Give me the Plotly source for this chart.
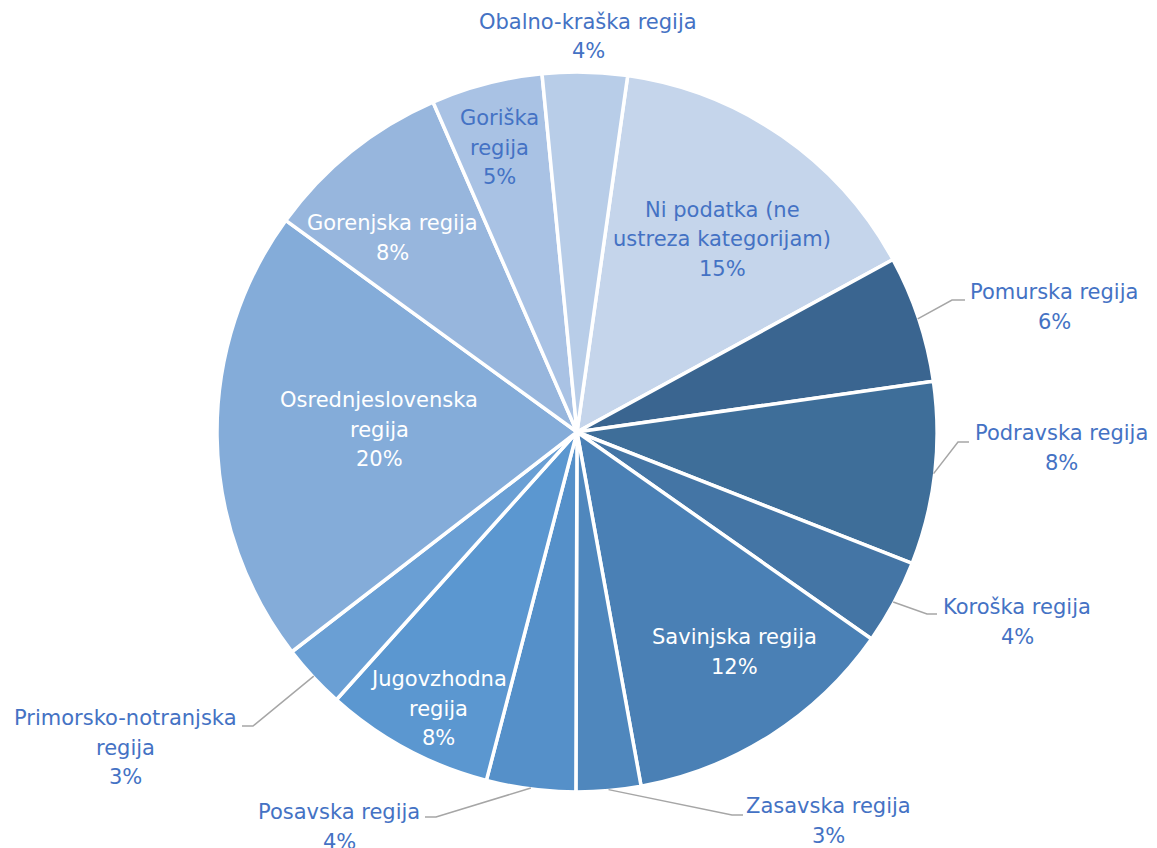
import math
import plotly.graph_objects as go

# -----------------------------
# Data (clockwise, starting after Obalno-kraška)
# -----------------------------
regions = [
    "Ni podatka (ne ustreza kategorijam)",
    "Pomurska regija",
    "Podravska regija",
    "Koroška regija",
    "Savinjska regija",
    "Zasavska regija",
    "Posavska regija",
    "Jugovzhodna regija",
    "Primorsko-notranjska regija",
    "Osrednjeslovenska regija",
    "Gorenjska regija",
    "Goriška regija",
    "Obalno-kraška regija",
]
shares = [14.8, 5.7, 8.2, 3.8, 12.4, 2.9, 4.0, 7.6, 2.9, 20.45, 8.45, 5.0, 3.8]

# how each label is broken into lines
label_lines = [
    ["Ni podatka (ne", "ustreza kategorijam)"],
    ["Pomurska regija"],
    ["Podravska regija"],
    ["Koroška regija"],
    ["Savinjska regija"],
    ["Zasavska regija"],
    ["Posavska regija"],
    ["Jugovzhodna", "regija"],
    ["Primorsko-notranjska", "regija"],
    ["Osrednjeslovenska", "regija"],
    ["Gorenjska regija"],
    ["Goriška", "regija"],
    ["Obalno-kraška regija"],
]

colors = ["#c5d5eb", "#3a6590", "#3e6e99", "#4475a5", "#4a80b5", "#4f87bd",
          "#5590c9", "#5b97d0", "#6a9fd4", "#84acd9", "#97b6dd", "#a9c2e4", "#b8cde8"]

# -----------------------------
# Layout helpers (pixels)
# -----------------------------
W, H = 1157, 848
CX, CY, R = 577, 432, 360
START = 8.1  # angle of first slice, degrees clockwise from 12 o'clock

BLUE = "#4472c4"
WHITE = "#ffffff"
LINE = 29.5

# label placement: block centre x, first line y, text colour, leader (end, elbow) or None
label_pos = [
    (722, 210, BLUE, None),
    (1054, 292, BLUE, ((965, 300), (952, 300))),
    (1061, 433, BLUE, ((969, 442), (958, 442))),
    (1017, 607, BLUE, ((937, 614), (927, 614))),
    (734, 637, WHITE, None),
    (829, 806, BLUE, ((743, 815), (732, 815))),
    (339, 812, BLUE, ((425, 817), (436, 817))),
    (438, 679, WHITE, None),
    (125, 718, BLUE, ((242, 726), (253, 726))),
    (379, 400, WHITE, None),
    (392, 223, WHITE, None),
    (499, 118, BLUE, None),
    (588, 22, BLUE, None),
]


def px(x):
    return x / W


def py(y):
    return 1 - y / H


fig = go.Figure()
fig.add_trace(go.Pie(
    labels=regions,
    values=shares,
    sort=False,
    direction="clockwise",
    rotation=START,
    marker=dict(colors=colors, line=dict(color="white", width=3.5)),
    textinfo="none",
    hoverinfo="label+percent",
    showlegend=False,
    domain=dict(x=[px(CX - R), px(CX + R)], y=[py(CY + R), py(CY - R)]),
))

total = sum(shares)
annotations = []
shapes = []
cum = 0
for name, val, lines, pos in zip(regions, shares, label_lines, label_pos):
    mid = math.radians(START + (cum + val / 2) / total * 360)
    cum += val
    cx, y0, col, leader = pos
    all_lines = lines + [f"{round(val / total * 100)}%"]
    for i, txt in enumerate(all_lines):
        annotations.append(dict(
            x=px(cx), y=py(y0 + i * LINE), xref="paper", yref="paper",
            text=txt, showarrow=False, xanchor="center", yanchor="middle",
            font=dict(family="DejaVu Sans", size=21, color=col),
        ))
    if leader:
        (ex, ey), (bx, by) = leader
        sx = CX + (R - 1) * math.sin(mid)
        sy = CY - (R - 1) * math.cos(mid)
        path = f"M {px(sx)} {py(sy)} L {px(bx)} {py(by)} L {px(ex)} {py(ey)}"
        shapes.append(dict(type="path", path=path, xref="paper", yref="paper",
                           line=dict(color="#a6a6a6", width=1.5)))

fig.update_layout(
    width=W, height=H,
    margin=dict(l=0, r=0, t=0, b=0),
    paper_bgcolor="white",
    plot_bgcolor="white",
    annotations=annotations,
    shapes=shapes,
)

# drop the default page margin so the figure sits at the window's corner
fig.write_html("out.html", config={"displayModeBar": False},
               post_script="document.body.style.margin='0';")
